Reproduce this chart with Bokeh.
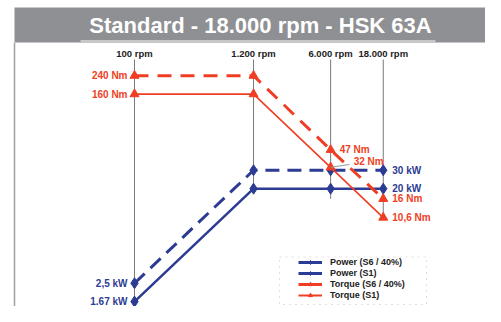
import math
from bokeh.plotting import figure
from bokeh.models import Range1d, Legend, LegendItem, ColumnDataSource, BoxAnnotation
from bokeh.core.properties import value
from bokeh.embed import file_html
from bokeh.resources import INLINE

# ---------------- data ----------------
rpm = [100, 1200, 6000, 18000]
rpm_labels = ["100 rpm", "1.200 rpm", "6.000 rpm", "18.000 rpm"]
power_s6 = [2.5, 30, 30, 30]      # kW
power_s1 = [1.67, 20, 20, 20]     # kW
torque_s6 = [240, 240, 47, 16]    # Nm
torque_s1 = [160, 160, 32, 10.6]  # Nm
vline_bottom = [1.0, 20, 16, 10.6]

left_lbl_x = [100, 100, 100, 100]
left_lbl_y = [240, 160, 2.5, 1.67]
left_lbl_t = ["240 Nm", "160 Nm", "2,5 kW", "1.67 kW"]
right_lbl_x = [6000, 18000, 18000, 18000, 18000]
right_lbl_y = [47, 30, 20, 16, 10.6]
right_lbl_t = ["47 Nm", "30 kW", "20 kW", "16 Nm", "10,6 Nm"]
lbl32_x = [6000]
lbl32_y = [32]
lbl32_t = ["32 Nm"]

series_names = ["Power (S6 / 40%)", "Power (S1)", "Torque (S6 / 40%)", "Torque (S1)"]
title_text = "Standard - 18.000 rpm - HSK 63A"

# ---------------- styling ----------------
BLUE = "#2c3b93"
RED = "#ef3e24"
GREY = "#8f9093"
FONT = "Liberation Sans"

W, H = 485, 306
# canvas-pixel -> data helpers (log-log layout)
XPD, YPD, Y0 = 110.3, 104.7, 324.4
def xv(px):
    return 10 ** (2 + (px - 134) / XPD)
def yv(py):
    return 10 ** ((Y0 - py) / YPD)

p = figure(width=W, height=H, x_axis_type="log", y_axis_type="log",
           x_range=Range1d(xv(0), xv(W)), y_range=Range1d(yv(H), yv(0)),
           output_backend="svg", toolbar_location=None, min_border=0)
p.axis.visible = False
p.grid.visible = False
p.outline_line_color = None
p.background_fill_color = "white"
p.border_fill_color = "white"

# title band
p.add_layout(BoxAnnotation(left=xv(14), right=xv(600), bottom=yv(42), top=yv(7),
                           fill_color=GREY, fill_alpha=1, line_alpha=0, level="underlay"))
p.segment(x0=[xv(80)], y0=[yv(40.5)], x1=[xv(435)], y1=[yv(40.5)], line_color="white", line_width=1.2)
p.segment(x0=[xv(14)], y0=[yv(42)], x1=[xv(14)], y1=[yv(400)], line_color="#a0a0a0", line_width=1.5)
p.text(x=[xv(260)], y=[yv(25)], text=[title_text], text_color="white",
       text_font=value(FONT), text_font_style="bold", text_font_size="22px",
       text_align="center", text_baseline="middle")

# vertical rpm lines + labels
p.segment(x0=rpm, y0=[yv(59)] * 4, x1=rpm, y1=vline_bottom, line_color="#7a7a7a", line_width=1)
p.text(x=rpm, y=[yv(53)] * 4, text=rpm_labels, text_color="#222222",
       text_font=value(FONT), text_font_style="bold", text_font_size="9.5px",
       text_align="center", text_baseline="middle")

# series
p.line(rpm, power_s6, line_color=BLUE, line_width=3, line_dash="14 8")
p.scatter(rpm, power_s6, marker="diamond", size=11, color=BLUE)
p.line(rpm, power_s1, line_color=BLUE, line_width=2.5)
p.scatter(rpm, power_s1, marker="diamond", size=11, color=BLUE)
p.line(rpm, torque_s6, line_color=RED, line_width=3, line_dash="14 9")
p.scatter(rpm, torque_s6, marker="triangle", size=9, color=RED)
p.line(rpm, torque_s1, line_color=RED, line_width=1.6)
p.scatter(rpm, torque_s1, marker="triangle", size=9, color=RED)

# value labels
lcol = [RED, RED, BLUE, BLUE]
p.text(x=left_lbl_x, y=left_lbl_y, text=left_lbl_t, text_color=lcol,
       text_font=value(FONT), text_font_style="bold", text_font_size="10px",
       text_align="right", text_baseline="middle", x_offset=-7)
rcol = [RED, BLUE, BLUE, RED, RED]
p.text(x=right_lbl_x, y=right_lbl_y, text=right_lbl_t, text_color=rcol,
       text_font=value(FONT), text_font_style="bold", text_font_size="10px",
       text_align="left", text_baseline="middle", x_offset=9)
p.segment(x0=lbl32_x, y0=lbl32_y, x1=[xv(349)], y1=[yv(164)], line_color="#999999", line_width=1)
p.text(x=lbl32_x, y=lbl32_y, text=lbl32_t, text_color=[RED],
       text_font=value(FONT), text_font_style="bold", text_font_size="10px",
       text_align="left", text_baseline="middle", x_offset=23, y_offset=-6)

# legend box
p.add_layout(BoxAnnotation(left=xv(279), right=xv(426), top=yv(256.5), bottom=yv(304),
                           fill_color="white", fill_alpha=1, line_color="#999999",
                           line_dash="dotted", line_width=1))

nan = float("nan")
items = []
specs = [(BLUE, "diamond", 3, 9), (BLUE, "diamond", 3, 9), (RED, "triangle", 3, 8), (RED, "triangle", 2, 8)]
for name, (c, m, lw, sz) in zip(series_names, specs):
    src = ColumnDataSource(dict(x=[nan], y=[nan]))
    r1 = p.line("x", "y", source=src, line_color=c, line_width=lw)
    r2 = p.scatter("x", "y", source=src, marker=m, size=sz, color=c)
    items.append(LegendItem(label=name, renderers=[r1, r2]))

legend = Legend(items=items, location=(296, 4), padding=2, margin=0, spacing=1,
                label_height=10, glyph_height=10, glyph_width=24, label_standoff=8,
                label_text_font=FONT, label_text_font_style="bold", label_text_font_size="9px",
                label_text_color="#222222", border_line_alpha=0, background_fill_alpha=0)
p.add_layout(legend)

open("out.html", "w").write(file_html(p, INLINE))
